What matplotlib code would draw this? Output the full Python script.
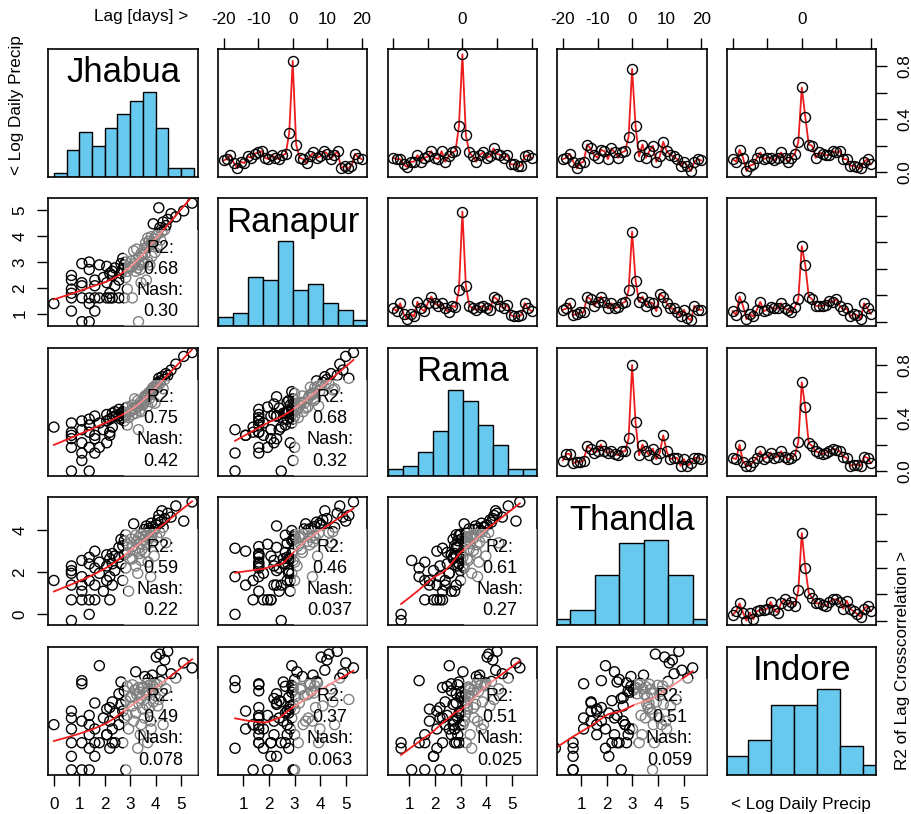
import numpy as np
import matplotlib
matplotlib.use('Agg')
import matplotlib.pyplot as plt
from matplotlib.patches import Rectangle

plt.rcParams['font.family'] = ['Liberation Sans', 'DejaVu Sans']

# ---------------- data ----------------
stations = ['Jhabua', 'Ranapur', 'Rama', 'Thandla', 'Indore']

jhabua = [0.00, 0.69, 0.69, 0.69, 0.69, 0.69, 0.69, 1.10, 1.10, 1.10, 1.10, 1.10,
          1.39, 1.39, 1.39, 1.39, 1.39, 1.61, 1.61, 1.61, 1.61, 1.79, 1.79, 1.95,
          2.08, 2.08, 2.08, 2.20, 2.20, 2.20, 2.30, 2.30, 2.30, 2.40, 2.40,
          2.56, 2.56, 2.64, 2.64, 2.71, 2.71, 2.77, 2.77, 2.83, 2.83, 2.89, 2.89, 2.94, 3.00,
          3.04, 3.09, 3.09, 3.14, 3.18, 3.22, 3.22, 3.26, 3.30, 3.33, 3.33, 3.37, 3.40, 3.43, 3.43, 3.47, 3.50,
          3.53, 3.56, 3.58, 3.61, 3.64, 3.66, 3.69, 3.71, 3.74, 3.76, 3.78, 3.81, 3.83, 3.85, 3.87, 3.89, 3.91, 3.95, 3.98,
          4.03, 4.06, 4.09, 4.13, 4.17, 4.20, 4.25, 4.30, 4.36, 4.41, 4.48, 4.61, 4.80, 5.11, 5.44]

ranapur = [1.39, 1.95, 1.61, 2.48, 1.10, 2.30, 1.79, 0.69, 2.08, 2.94, 1.61, 2.20,
           0.69, 1.61, 3.00, 1.39, 2.71, 1.61, 2.30, 1.10, 2.08, 2.89, 1.61, 2.40,
           1.61, 2.83, 2.20, 1.79, 2.56, 1.61, 2.64, 2.48, 1.61, 2.77, 2.08,
           2.30, 1.61, 2.94, 2.56, 3.14, 2.71, 1.61, 2.89, 2.40, 3.00, 2.64, 1.95, 2.83, 2.77,
           3.04, 2.83, 1.61, 3.43, 2.94, 3.09, 2.64, 3.50, 2.77, 0.69, 3.18, 2.89, 2.71, 3.33, 2.20, 3.26, 3.00,
           2.94, 3.53, 3.30, 3.74, 2.30, 3.58, 3.93, 3.00, 3.64, 3.81, 2.89, 3.69, 3.98, 3.22, 3.71, 3.78, 4.48, 3.89, 3.37,
           4.03, 3.61, 4.09, 5.10, 4.33, 3.85, 4.17, 4.55, 4.25, 4.41, 4.65, 4.87, 4.75, 4.98, 5.28]

rama = [2.40, 1.61, 2.20, 0.69, 2.08, 1.95, 2.56, 1.39, 2.30, 1.10, 2.64, 1.79,
        0.69, 2.48, 1.61, 2.20, 2.71, 1.39, 2.83, 2.08, 1.95, 2.56, 1.61, 2.30,
        2.64, 1.79, 2.89, 2.08, 2.71, 2.20, 2.94, 2.40, 2.77, 3.00, 2.83,
        2.83, 3.09, 2.71, 2.94, 2.77, 3.00, 2.64, 2.89, 3.14, 2.83, 2.48, 3.18, 2.77, 3.00,
        3.04, 3.26, 2.89, 3.14, 3.50, 3.09, 2.94, 3.18, 3.43, 2.30, 3.22, 3.04, 3.37, 3.00, 3.30, 3.33, 3.26,
        3.30, 3.53, 3.61, 3.43, 3.58, 3.64, 3.22, 3.71, 3.69, 3.50, 3.78, 3.66, 3.81, 3.37, 3.74, 3.93, 3.85, 3.98, 3.33,
        4.03, 3.95, 4.14, 4.30, 4.09, 4.20, 4.36, 3.89, 4.25, 4.48, 4.41, 4.62, 4.85, 5.15, 5.30]

thandla = [1.61, 0.69, 2.30, -0.29, 1.39, 2.08, 1.95, 1.79, 0.69, 2.56, 1.10, 1.39,
           0.00, 2.40, 1.61, 0.69, 2.71, 2.20, 1.39, 3.00, 0.69, 1.95, 2.48, 1.10,
           2.83, 1.61, 2.30, 0.69, 2.64, 1.79, 2.40, 1.39, 2.89, 2.08, 2.77,
           3.18, 2.71, 3.56, 2.40, 3.26, 1.61, 2.83, 3.50, 2.20, 3.78, 2.94, 3.33, 1.10, 2.64,
           3.58, 2.64, 3.22, 4.30, 3.04, 2.30, 3.76, 3.47, 1.95, 3.14, 3.64, 2.89, 3.37, 3.81, 2.56, 3.09, 3.69,
           3.53, 4.03, 2.94, 3.74, 4.20, 3.30, 3.85, 2.48, 4.09, 3.61, 3.98, 1.79, 4.33, 3.71, 3.43, 4.17, 3.93, 2.77, 4.06,
           4.25, 3.66, 4.48, 4.70, 3.89, 4.38, 4.92, 4.13, 4.55, 3.40, 4.80, 4.62, 5.15, 4.43, 5.34]

indore = [1.61, -0.69, 1.95, 0.69, 2.30, 0.00, 1.39, 3.85, 0.69, -0.69, 3.69, 1.79,
          0.41, 2.08, 1.10, -0.69, 1.61, 0.69, 2.71, 1.39, 0.00, 4.61, 0.69, 1.95,
          1.10, 2.40, 1.10, 0.41, 1.79, 2.48, 0.69, 2.77, 1.39, 2.20, 0.69,
          3.18, 1.61, 2.64, 3.78, 0.69, 2.30, 3.33, 1.95, 2.83, -0.69, 3.56, 2.08, 1.39, 3.00,
          3.04, 2.56, 3.64, 1.79, 3.37, 4.30, 2.20, 3.14, 0.41, 3.50, 2.71, 3.26, 1.10, 1.61, 2.94, 3.47, 2.40,
          3.53, 1.95, 4.06, 3.22, 2.64, 3.71, 0.69, 3.91, 3.30, 2.48, 3.61, 1.79, 1.39, 3.40, 4.13, 3.58, 2.77, 3.74, 3.09,
          5.05, 3.66, 2.56, 2.89, 5.20, 3.81, 4.38, 1.61, 4.90, 3.43, 5.34, 4.20, 3.98, 4.75, 4.50]

lags = list(range(-20, 21))
xc_jhabua_ranapur = [0.09,0.10,0.13,0.07,0.03,0.08,0.07,0.12,0.11,0.14,0.15,0.16,0.11,0.10,0.13,0.11,0.10,0.13,0.14,0.30,0.84,0.21,0.11,0.10,0.07,0.12,0.15,0.11,0.12,0.16,0.14,0.10,0.13,0.16,0.03,0.05,0.03,0.05,0.14,0.11,0.10]
xc_jhabua_rama = [0.11,0.10,0.10,0.06,0.04,0.08,0.08,0.13,0.08,0.11,0.12,0.16,0.11,0.10,0.16,0.08,0.12,0.15,0.16,0.35,0.89,0.28,0.15,0.12,0.08,0.13,0.15,0.11,0.12,0.18,0.14,0.13,0.11,0.13,0.06,0.06,0.05,0.05,0.12,0.13,0.11]
xc_jhabua_thandla = [0.10,0.11,0.14,0.08,0.03,0.07,0.08,0.21,0.18,0.13,0.11,0.17,0.16,0.10,0.18,0.15,0.11,0.15,0.16,0.27,0.78,0.35,0.12,0.21,0.11,0.16,0.20,0.08,0.12,0.23,0.16,0.13,0.12,0.10,0.05,0.08,0.05,0.01,0.08,0.10,0.09]
xc_jhabua_indore = [0.10,0.08,0.17,0.11,0.01,0.05,0.06,0.11,0.15,0.10,0.11,0.11,0.09,0.11,0.15,0.11,0.08,0.11,0.14,0.23,0.64,0.42,0.21,0.20,0.11,0.15,0.14,0.13,0.13,0.16,0.15,0.16,0.10,0.10,0.05,0.05,0.04,0.03,0.08,0.10,0.06]
xc_ranapur_rama = [0.10,0.08,0.14,0.06,0.02,0.06,0.04,0.15,0.10,0.08,0.14,0.19,0.14,0.12,0.14,0.10,0.07,0.12,0.11,0.24,0.83,0.27,0.12,0.10,0.09,0.11,0.12,0.10,0.09,0.19,0.17,0.12,0.10,0.13,0.05,0.04,0.04,0.05,0.14,0.10,0.08]
xc_ranapur_thandla = [0.09,0.10,0.14,0.05,0.06,0.07,0.07,0.19,0.17,0.12,0.15,0.19,0.15,0.10,0.14,0.10,0.11,0.14,0.15,0.24,0.68,0.31,0.15,0.19,0.12,0.15,0.14,0.08,0.21,0.19,0.14,0.10,0.10,0.07,0.04,0.09,0.03,0.01,0.12,0.09,0.09]
xc_ranapur_indore = [0.08,0.05,0.19,0.12,0.02,0.06,0.04,0.09,0.15,0.08,0.09,0.11,0.10,0.10,0.14,0.10,0.09,0.07,0.11,0.17,0.57,0.43,0.19,0.17,0.12,0.12,0.12,0.13,0.16,0.15,0.17,0.12,0.09,0.10,0.04,0.06,0.05,0.02,0.14,0.10,0.06]
xc_rama_thandla = [0.08,0.13,0.13,0.06,0.07,0.07,0.08,0.19,0.17,0.14,0.15,0.20,0.15,0.14,0.15,0.13,0.12,0.15,0.15,0.25,0.80,0.37,0.12,0.20,0.15,0.12,0.17,0.09,0.14,0.27,0.15,0.09,0.10,0.10,0.04,0.09,0.04,0.06,0.10,0.10,0.09]
xc_rama_indore = [0.10,0.09,0.20,0.07,0.04,0.04,0.07,0.10,0.15,0.09,0.11,0.14,0.10,0.11,0.15,0.11,0.09,0.10,0.12,0.22,0.67,0.48,0.21,0.19,0.15,0.14,0.13,0.14,0.15,0.17,0.16,0.15,0.11,0.10,0.04,0.05,0.05,0.04,0.11,0.10,0.06]
xc_thandla_indore = [0.04,0.07,0.13,0.06,0.00,0.06,0.01,0.07,0.08,0.08,0.09,0.14,0.08,0.06,0.13,0.16,0.12,0.14,0.11,0.23,0.66,0.40,0.21,0.17,0.13,0.13,0.12,0.11,0.14,0.16,0.16,0.14,0.09,0.15,0.09,0.07,0.05,0.03,0.09,0.11,0.07]

r2_labels = ['0.68', '0.75', '0.68', '0.59', '0.46', '0.61', '0.49', '0.37', '0.51', '0.51']
nash_labels = ['0.30', '0.42', '0.32', '0.22', '0.037', '0.27', '0.078', '0.063', '0.025', '0.059']

# ---------------- helpers ----------------
series = [np.array(s, float) for s in (jhabua, ranapur, rama, thandla, indore)]
upper = {(0, 1): xc_jhabua_ranapur, (0, 2): xc_jhabua_rama, (0, 3): xc_jhabua_thandla,
         (0, 4): xc_jhabua_indore, (1, 2): xc_ranapur_rama, (1, 3): xc_ranapur_thandla,
         (1, 4): xc_ranapur_indore, (2, 3): xc_rama_thandla, (2, 4): xc_rama_indore,
         (3, 4): xc_thandla_indore}
lower_pairs = [(1, 0), (2, 0), (2, 1), (3, 0), (3, 1), (3, 2), (4, 0), (4, 1), (4, 2), (4, 3)]
stats = {p: (r2_labels[k], nash_labels[k]) for k, p in enumerate(lower_pairs)}


def lowess(x, y, f=2 / 3, iters=3):
    o = np.argsort(x, kind='mergesort')
    x = x[o]; y = y[o]
    n = len(x)
    r = int(np.ceil(f * n))
    rob = np.ones(n)
    fit = np.zeros(n)
    for it in range(iters + 1):
        for i in range(n):
            d = np.abs(x - x[i])
            h = max(np.sort(d)[r - 1], 1e-9)
            u = np.clip(d / h, 0, 1)
            w = (1 - u ** 3) ** 3 * rob
            sw = w.sum()
            xm = (w * x).sum() / sw
            ym = (w * y).sum() / sw
            sxx = (w * (x - xm) ** 2).sum()
            b = (w * (x - xm) * (y - ym)).sum() / sxx if sxx > 1e-12 else 0.0
            fit[i] = ym + b * (x[i] - xm)
        res = y - fit
        s = np.median(np.abs(res))
        if s < 1e-12:
            break
        u = np.clip(res / (6 * s), -1, 1)
        rob = (1 - u ** 2) ** 2
    return x, fit


def rng(v):
    lo, hi = v.min(), v.max()
    e = 0.04 * (hi - lo)
    return lo - e, hi + e


hist_edges = [np.arange(0, 5.51, 0.5), np.arange(0.5, 5.51, 0.5), np.arange(0.5, 5.51, 0.5),
              np.arange(-1, 6.01, 1.0), np.arange(-1, 6.01, 1.0)]
col_xlim = [(-0.22, 5.66), (0.03, 5.82), (0.17, 5.97), (0.08, 5.89)]
col_xticks = [[0, 1, 2, 3, 4, 5], [1, 2, 3, 4, 5], [1, 2, 3, 4, 5], [1, 2, 3, 4, 5]]

HIST_COLOR = '#68C9EE'
FS_TICK = 12.3
W, H = 912, 814
left0, colpitch, pw = 48.3, 169.7, 149.4
top0, rowpitch, ph = 49.0, 149.4, 128.0

fig = plt.figure(figsize=(W / 100, H / 100), dpi=100)

for i in range(5):
    for j in range(5):
        l = left0 + j * colpitch
        t = top0 + i * rowpitch
        ax = fig.add_axes([l / W, 1 - (t + ph) / H, pw / W, ph / H])
        for sp in ax.spines.values():
            sp.set_linewidth(1.2)
        ax.tick_params(which='both', direction='out', length=8, width=1.0,
                       labelsize=FS_TICK, color='black')
        ax.set_xticks([]); ax.set_yticks([])

        if i == j:
            v = series[i]
            edges = hist_edges[i]
            e2 = edges + 1e-6          # right-closed bins like R's hist()
            e2[0] = edges[0] - 1e-6    # include.lowest
            cnt, _ = np.histogram(v, bins=e2)
            hgt = cnt / cnt.max()
            ax.bar(edges[:-1], hgt, width=np.diff(edges), align='edge',
                   color=HIST_COLOR, edgecolor='black', linewidth=1.0)
            ax.set_xlim(rng(v))
            ax.set_ylim(0, 1.5)
            ax.text(0.5, 0.74, stations[i], transform=ax.transAxes, ha='center',
                    va='baseline', fontsize=25)
        elif i < j:
            yv = upper[(i, j)]
            ax.plot(lags, yv, color='#EE1C1C', lw=1.3, zorder=2)
            ax.plot(lags, yv, ls='none', marker='o', ms=7.2, mfc='none', mec='black',
                    mew=1.0, zorder=3)
            ax.set_xlim(-21.6, 21.6)
            ax.set_ylim(-0.035, 0.93)
            if i == 0:
                ax.xaxis.tick_top()
                ax.set_xticks([-20, -10, 0, 10, 20])
                if j in (1, 3):
                    ax.set_xticklabels(['-20', '-10', '0', '10', '20'])
                else:
                    ax.set_xticklabels(['', '', '0', '', ''])
                ax.tick_params(axis='x', pad=8)
            if j == 4:
                ax.yaxis.tick_right()
                ax.set_yticks([0, 0.2, 0.4, 0.6, 0.8])
                if i in (0, 2):
                    ax.set_yticklabels(['0.0', '', '0.4', '', '0.8'], rotation=90,
                                       va='center')
                else:
                    ax.set_yticklabels([''] * 5)
                ax.tick_params(axis='y', pad=7)
        else:
            x = series[j]; y = series[i]
            ax.scatter(x, y, s=52, facecolors='none', edgecolors='black',
                       linewidths=1.0, zorder=2)
            lx, ly = lowess(x, y)
            ax.plot(lx, ly, color='#EE1C1C', lw=1.3, zorder=2.5)
            ax.add_patch(Rectangle((0.51, 0.0), 0.49, 0.75, transform=ax.transAxes,
                                   facecolor='white', alpha=0.5, edgecolor='none',
                                   zorder=3))
            r2, ns = stats[(i, j)]
            for txt, yy in zip(['R2:', r2, 'Nash:', ns], [0.575, 0.41, 0.245, 0.078]):
                ax.text(0.75, yy, txt, transform=ax.transAxes, ha='center',
                        va='baseline', fontsize=13, zorder=4)
            ax.set_xlim(col_xlim[j])
            ax.set_ylim(rng(y))
            if i == 4:
                ax.set_xticks(col_xticks[j])
                ax.set_xticklabels([str(t) for t in col_xticks[j]])
                ax.tick_params(axis='x', pad=8)
            if j == 0 and i in (1, 3):
                yt = [1, 2, 3, 4, 5] if i == 1 else [0, 2, 4]
                ax.set_yticks(yt)
                ax.set_yticklabels([str(t) for t in yt], rotation=90, va='center')
                ax.tick_params(axis='y', pad=7)

fig.text(141.5 / W, 1 - 17 / H, 'Lag [days] >', ha='center', va='center', fontsize=FS_TICK)
fig.text(17 / W, 1 - 105 / H, '< Log Daily Precip', ha='center', va='center',
         rotation=90, fontsize=FS_TICK)
fig.text(801 / W, 1 - 805 / H, '< Log Daily Precip', ha='center', va='center',
         fontsize=FS_TICK)
fig.text(903 / W, 1 - 660 / H, 'R2 of Lag Crosscorrelation >', ha='center', va='center',
         rotation=90, fontsize=FS_TICK)

fig.savefig('out.png', dpi=100, facecolor='white')
